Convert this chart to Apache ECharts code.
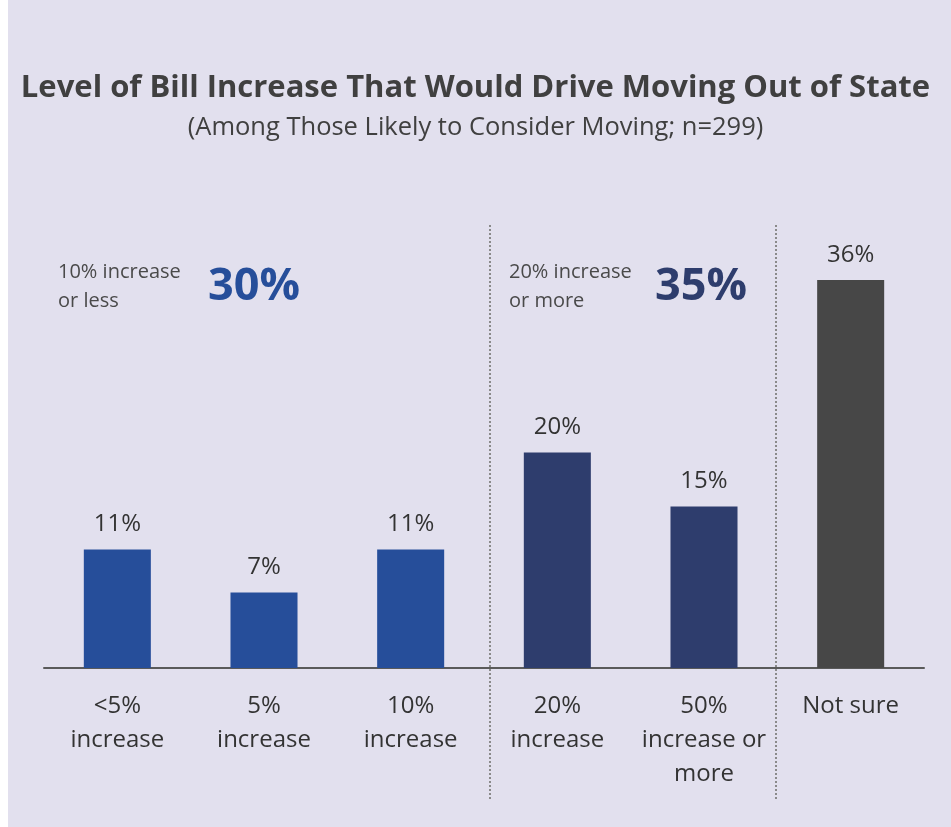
<!DOCTYPE html>
<html>
<head>
<meta charset="utf-8">
<script src="https://cdn.jsdelivr.net/npm/echarts@6/dist/echarts.min.js"></script>
<style>
html,body{margin:0;padding:0;background:#ffffff;}
#chart{width:951px;height:827px;}
</style>
</head>
<body>
<div id="chart"></div>
<script>
var titleText = 'Level of Bill Increase That Would Drive Moving Out of State';
var subtitleText = '(Among Those Likely to Consider Moving; n=299)';
var categories = ['<5%\nincrease', '5%\nincrease', '10%\nincrease', '20%\nincrease', '50%\nincrease or\nmore', 'Not sure'];
var values = [11, 7, 11, 20, 15, 36];
var groups = ['low', 'low', 'low', 'high', 'high', 'unsure'];
var groupColors = { low: '#264E9A', high: '#2E3D6D', unsure: '#474747' };
var groupNames = ['10% increase\nor less', '20% increase\nor more'];
var groupTotals = [30, 35];
var groupTotalColors = ['#264E9A', '#2E3D6D'];

var chart = echarts.init(document.getElementById('chart'));
var FONT = '"Open Sans", "Noto Sans", sans-serif';

var option = {
  backgroundColor: '#E2E0EE',
  animation: false,
  title: {
    text: titleText,
    subtext: subtitleText,
    left: 'center',
    top: 65,
    itemGap: 7,
    textStyle: { fontFamily: FONT, fontWeight: 'bold', fontSize: 31, lineHeight: 36, color: '#404040' },
    subtextStyle: { fontFamily: FONT, fontSize: 25.5, lineHeight: 30, color: '#404040' }
  },
  grid: { left: 44, right: 27, top: 237, bottom: 159, containLabel: false },
  xAxis: {
    type: 'category',
    data: categories,
    axisLine: { show: true, lineStyle: { color: '#5a5a5a', width: 2 } },
    axisTick: { show: false },
    axisLabel: { interval: 0, margin: 21, fontFamily: FONT, fontSize: 24, lineHeight: 34, color: '#333333', align: 'center' }
  },
  yAxis: { type: 'value', min: 0, max: 40, show: false, splitLine: { show: false } },
  series: [{
    type: 'bar',
    barWidth: '45.7%',
    data: values.map(function (v, i) {
      return { value: v, itemStyle: { color: groupColors[groups[i]] } };
    }),
    label: {
      show: true, position: 'top', distance: 13,
      formatter: function (p) { return p.value + '%'; },
      fontFamily: FONT, fontSize: 24, color: '#333333'
    }
  }],
  graphic: [
    { type: 'rect', left: 0, top: 0, shape: { width: 8, height: 827 }, style: { fill: '#ffffff' }, silent: true },
    { type: 'line', shape: { x1: 490, y1: 225, x2: 490, y2: 800 }, style: { stroke: '#8a8a8a', lineWidth: 2, lineDash: [2, 2] } },
    { type: 'line', shape: { x1: 776, y1: 225, x2: 776, y2: 800 }, style: { stroke: '#8a8a8a', lineWidth: 2, lineDash: [2, 2] } },
    { type: 'text', x: 58, y: 258, style: { text: groupNames[0], font: '20px ' + FONT, fill: '#4a4a4a', lineHeight: 29 } },
    { type: 'text', x: 208, y: 287, style: { text: groupTotals[0] + '%', font: 'bold 45px ' + FONT, fill: groupTotalColors[0], verticalAlign: 'middle' } },
    { type: 'text', x: 509, y: 258, style: { text: groupNames[1], font: '20px ' + FONT, fill: '#4a4a4a', lineHeight: 29 } },
    { type: 'text', x: 655, y: 287, style: { text: groupTotals[1] + '%', font: 'bold 45px ' + FONT, fill: groupTotalColors[1], verticalAlign: 'middle' } }
  ]
};
chart.setOption(option);
</script>
</body>
</html>
